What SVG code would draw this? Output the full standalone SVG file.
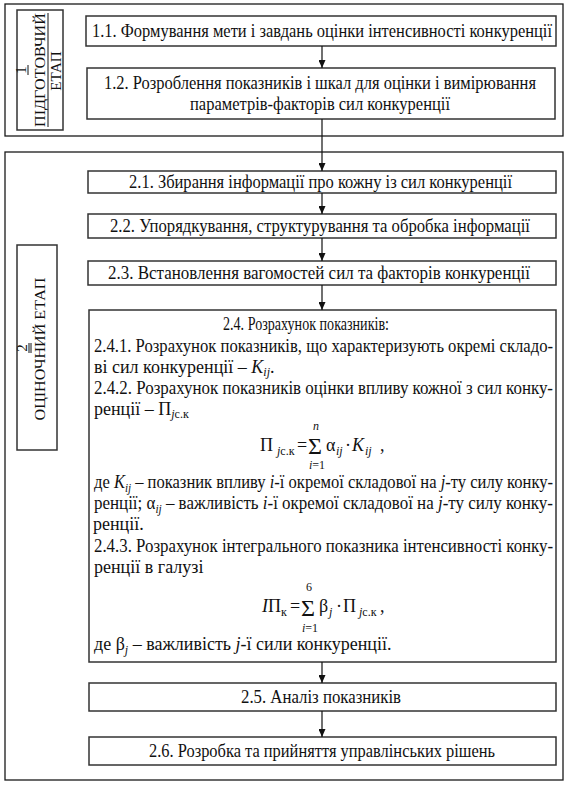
<svg xmlns="http://www.w3.org/2000/svg" width="566" height="787" viewBox="0 0 566 787">
<style>
.frame{fill:none;stroke:#1a1a1a;stroke-width:1.3}
.box{fill:#fff;stroke:#333;stroke-width:1.5}
.t{font-family:"Liberation Serif","Times New Roman",serif;font-size:18px;fill:#111}
.lbl{font-family:"Liberation Serif","Times New Roman",serif;font-size:15px;fill:#111}
.i{font-style:italic}
.sub{font-size:12px}
.sig{font-family:"Liberation Serif","Times New Roman",serif;font-size:24px;fill:#111}
.conn line{stroke:#111;stroke-width:1.2}
.ul{stroke:#111;stroke-width:1}
</style>
<defs>
<marker id="ah" markerWidth="8" markerHeight="7" refX="8" refY="3.5" orient="auto" markerUnits="userSpaceOnUse">
<path d="M0,0 L8,3.5 L0,7 z" fill="#111"/>
</marker>
</defs>
<rect width="566" height="787" fill="#fff"/>

<g id="stage1">
<rect class="frame" x="5" y="4" width="558" height="132"/>
<g id="label1">
<rect class="box" x="17" y="10" width="46" height="120"/>
<text class="lbl" transform="translate(26,70) rotate(-90)" text-anchor="middle">1</text>
<line class="ul" x1="28" y1="65" x2="28" y2="75"/>
<text class="lbl" transform="translate(45,70) rotate(-90)" text-anchor="middle" textLength="114" lengthAdjust="spacingAndGlyphs">ПІДГОТОВЧИЙ</text>
<line class="ul" x1="48" y1="13" x2="48" y2="127"/>
<text class="lbl" transform="translate(61,71) rotate(-90)" text-anchor="middle">ЕТАП</text>
</g>
</g>

<g id="n11">
<rect class="box" x="86" y="16" width="470" height="30"/>
<text class="t" transform="translate(92,37) scale(0.91,1)" textLength="505.5" lengthAdjust="spacingAndGlyphs">1.1. Формування мети і завдань оцінки інтенсивності конкуренції</text>
</g>
<g id="n12">
<rect class="box" x="87" y="68" width="468" height="51"/>
<text class="t" transform="translate(104,89) scale(0.91,1)" textLength="474.7" lengthAdjust="spacingAndGlyphs">1.2. Розроблення показників і шкал для оцінки і вимірювання</text>
<text class="t" transform="translate(190,110) scale(0.91,1)" textLength="285.7" lengthAdjust="spacingAndGlyphs">параметрів-факторів сил конкуренції</text>
</g>

<g id="stage2">
<rect class="frame" x="5" y="152" width="558" height="628"/>
<g id="label2">
<rect class="box" x="17" y="245" width="40" height="205"/>
<text class="lbl" transform="translate(27,348) rotate(-90)" text-anchor="middle">2</text>
<line class="ul" x1="29" y1="343" x2="29" y2="353"/>
<line class="ul" x1="31" y1="343" x2="31" y2="353"/>
<text class="lbl" transform="translate(45,349) rotate(-90)" text-anchor="middle" textLength="143" lengthAdjust="spacingAndGlyphs">ОЦІНОЧНИЙ ЕТАП</text>
</g>
</g>

<g id="n21">
<rect class="box" x="88" y="171" width="468" height="22"/>
<text class="t" transform="translate(129,188) scale(0.91,1)" textLength="420.9" lengthAdjust="spacingAndGlyphs">2.1. Збирання інформації про кожну із сил конкуренції</text>
</g>
<g id="n22">
<rect class="box" x="88" y="214" width="468" height="24"/>
<text class="t" transform="translate(110,232) scale(0.91,1)" textLength="461.5" lengthAdjust="spacingAndGlyphs">2.2. Упорядкування, структурування та обробка інформації</text>
</g>
<g id="n23">
<rect class="box" x="88" y="261" width="468" height="24"/>
<text class="t" transform="translate(108,279) scale(0.91,1)" textLength="463.7" lengthAdjust="spacingAndGlyphs">2.3. Встановлення вагомостей сил та факторів конкуренції</text>
</g>

<g id="n24">
<rect class="box" x="89" y="310" width="467" height="352"/>
<text class="t" transform="translate(223,330) scale(0.91,1)" textLength="182.4" lengthAdjust="spacingAndGlyphs">2.4. Розрахунок показників:</text>
<text class="t" transform="translate(94,352) scale(0.91,1)" textLength="504.4" lengthAdjust="spacingAndGlyphs">2.4.1. Розрахунок показників, що характеризують окремі складо-</text>
<text class="t" x="94" y="373">ві сил конкуренції – <tspan class="i">K</tspan><tspan class="i sub" dy="3">ij</tspan><tspan dy="-3">.</tspan></text>
<text class="t" transform="translate(94,394) scale(0.91,1)" textLength="504.4" lengthAdjust="spacingAndGlyphs">2.4.2. Розрахунок показників оцінки впливу кожної з сил конку-</text>
<text class="t" x="94" y="415">ренції – П<tspan class="sub" dy="3"><tspan class="i">j</tspan>с.к</tspan></text>

<g id="formula1">
<text class="t" x="260" y="451">П</text>
<text class="t sub" x="277" y="455"><tspan class="i">j</tspan>с.к</text>
<text class="t" x="297" y="451">=</text>
<text class="sig" x="308" y="454">Σ</text>
<text class="t sub i" x="316" y="430" text-anchor="middle">n</text>
<text class="t sub" x="317" y="469" text-anchor="middle"><tspan class="i">i</tspan>=1</text>
<text class="t" x="326" y="451">α</text>
<text class="t sub i" x="336" y="455">ij</text>
<text class="t" x="345" y="451">·</text>
<text class="t i" x="352" y="451">K</text>
<text class="t sub i" x="365" y="455">ij</text>
<text class="t" x="380" y="451">,</text>
</g>

<text class="t" transform="translate(94,488) scale(0.91,1)" textLength="504.4" lengthAdjust="spacingAndGlyphs">де <tspan class="i">K</tspan><tspan class="i sub" dy="4">ij</tspan><tspan dy="-4"> – показник впливу </tspan><tspan class="i">i</tspan>-ї окремої складової на <tspan class="i">j</tspan>-ту силу конку-</text>
<text class="t" transform="translate(94,509) scale(0.91,1)" textLength="504.4" lengthAdjust="spacingAndGlyphs">ренції; α<tspan class="i sub" dy="4">ij</tspan><tspan dy="-4"> – важливість </tspan><tspan class="i">i</tspan>-ї окремої складової на <tspan class="i">j</tspan>-ту силу конку-</text>
<text class="t" x="93" y="530">ренції.</text>
<text class="t" transform="translate(94,552) scale(0.91,1)" textLength="504.4" lengthAdjust="spacingAndGlyphs">2.4.3. Розрахунок інтегрального показника інтенсивності конку-</text>
<text class="t" x="94" y="573">ренції в галузі</text>

<g id="formula2">
<text class="t" x="262" y="612"><tspan class="i">І</tspan>П</text>
<text class="t sub" x="281" y="616">к</text>
<text class="t" x="290" y="612">=</text>
<text class="sig" x="301" y="616">Σ</text>
<text class="t sub" x="309" y="591" text-anchor="middle">6</text>
<text class="t sub" x="310" y="632" text-anchor="middle"><tspan class="i">i</tspan>=1</text>
<text class="t" x="319" y="612">β</text>
<text class="t sub i" x="329" y="616">j</text>
<text class="t" x="336" y="612">·</text>
<text class="t" x="343" y="612">П</text>
<text class="t sub" x="359" y="616"><tspan class="i">j</tspan>с.к</text>
<text class="t" x="380" y="612">,</text>
</g>

<text class="t" x="94" y="650">де β<tspan class="i sub" dy="4">j</tspan><tspan dy="-4"> – важливість </tspan><tspan class="i">j</tspan>-ї сили конкуренції.</text>
</g>

<g id="n25">
<rect class="box" x="89" y="683" width="467" height="28"/>
<text class="t" transform="translate(241,703) scale(0.91,1)" textLength="175.8" lengthAdjust="spacingAndGlyphs">2.5. Аналіз показників</text>
</g>
<g id="n26">
<rect class="box" x="89" y="737" width="467" height="28"/>
<text class="t" transform="translate(149,757) scale(0.91,1)" textLength="380.2" lengthAdjust="spacingAndGlyphs">2.6. Розробка та прийняття управлінських рішень</text>
</g>

<g id="connectors" class="conn">
<line x1="322" y1="46" x2="322" y2="68" marker-end="url(#ah)"/>
<line x1="322" y1="119" x2="322" y2="171" marker-end="url(#ah)"/>
<line x1="322" y1="193" x2="322" y2="214" marker-end="url(#ah)"/>
<line x1="322" y1="238" x2="322" y2="261" marker-end="url(#ah)"/>
<line x1="322" y1="285" x2="322" y2="310" marker-end="url(#ah)"/>
<line x1="322" y1="662" x2="322" y2="683" marker-end="url(#ah)"/>
<line x1="322" y1="711" x2="322" y2="737" marker-end="url(#ah)"/>
</g>
</svg>
